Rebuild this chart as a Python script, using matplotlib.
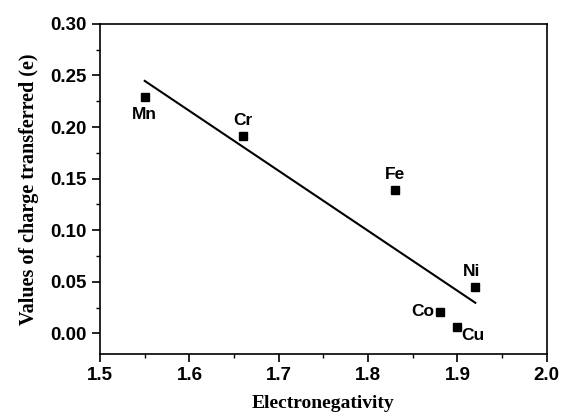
import numpy as np
import matplotlib.pyplot as plt
from matplotlib.ticker import MultipleLocator

# data
elements = ["Mn", "Cr", "Fe", "Ni", "Co", "Cu"]
electroneg = [1.55, 1.66, 1.83, 1.92, 1.88, 1.90]
charge = [0.229, 0.191, 0.139, 0.045, 0.021, 0.006]

# label offsets (points) and alignment
label_pos = {
    "Mn": (0, -7, "center", "top"),
    "Cr": (0, 6, "center", "bottom"),
    "Fe": (0, 6, "center", "bottom"),
    "Ni": (-3, 6, "center", "bottom"),
    "Co": (-4, 0, "right", "center"),
    "Cu": (3, -1, "left", "top"),
}

fig = plt.figure(figsize=(5.62, 4.12), dpi=100)
ax = fig.add_axes([0.178, 0.141, 0.795, 0.801])

ax.plot(electroneg, charge, "s", color="black", markersize=6)

# linear fit
k, b = np.polyfit(electroneg, charge, 1)
xf = np.array([min(electroneg), max(electroneg)])
ax.plot(xf, k * xf + b, color="black", linewidth=1.5)

for name, x, y in zip(elements, electroneg, charge):
    dx, dy, ha, va = label_pos[name]
    ax.annotate(name, (x, y), xytext=(dx, dy), textcoords="offset points",
                ha=ha, va=va, fontsize=12.5, fontweight="bold",
                family="Liberation Sans")

ax.set_xlim(1.5, 2.0)
ax.set_ylim(-0.02, 0.30)
ax.xaxis.set_major_locator(MultipleLocator(0.1))
ax.xaxis.set_minor_locator(MultipleLocator(0.05))
ax.yaxis.set_major_locator(MultipleLocator(0.05))
ax.yaxis.set_minor_locator(MultipleLocator(0.025))
ax.xaxis.set_major_formatter(plt.FuncFormatter(lambda v, p: f"{v:.1f}"))
ax.yaxis.set_major_formatter(plt.FuncFormatter(lambda v, p: f"{v:.2f}"))
ax.tick_params(which="major", direction="out", length=6, width=1.2,
               labelsize=13.5)
ax.tick_params(which="minor", direction="out", length=3, width=1.0)
for lab in ax.get_xticklabels() + ax.get_yticklabels():
    lab.set_fontweight("bold")
    lab.set_family("Liberation Sans")
for s in ax.spines.values():
    s.set_linewidth(1.2)

ax.set_xlabel("Electronegativity", fontsize=14, fontweight="bold",
              family="Liberation Serif", labelpad=8)
ax.set_ylabel("Values of charge transferred (e)", fontsize=14.5,
              fontweight="bold", family="Liberation Serif", labelpad=8)

plt.savefig("out.png", dpi=100)
